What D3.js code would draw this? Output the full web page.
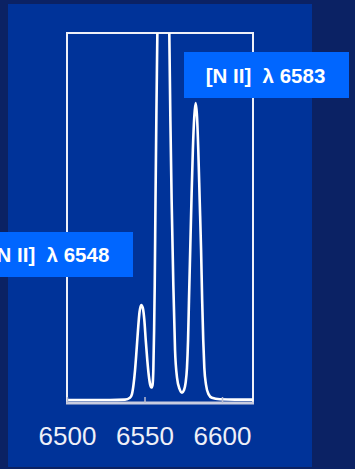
<!DOCTYPE html>
<html>
<head>
<meta charset="utf-8">
<script src="https://cdn.jsdelivr.net/npm/d3@7"></script>
<style>
  html, body { margin: 0; padding: 0; background: #0b2264; }
  svg { display: block; }
  text { font-family: "Liberation Sans", Arial, sans-serif; }
</style>
</head>
<body>
<svg id="chart" width="355" height="469"></svg>
<script>
// Spectrum around H-alpha with the [N II] doublet (relative flux)
const wavelength = [
  6500.0, 6514.8, 6527.7, 6537.4, 6540.6, 6541.9, 6542.9, 6543.9, 6544.8, 6545.8,
  6546.8, 6547.9, 6548.9, 6549.9, 6550.8, 6551.8, 6552.8, 6553.7, 6554.5, 6555.2,
  6555.7, 6556.2, 6556.6, 6557.1, 6557.7, 6558.3, 6559.0, 6560.3, 6562.1, 6563.9,
  6565.2, 6566.0, 6566.7, 6567.5, 6568.6, 6569.7, 6571.0, 6572.6, 6574.2, 6575.5,
  6576.5, 6577.4, 6578.1, 6578.7, 6579.5, 6580.3, 6581.2, 6582.1, 6583.0, 6583.9,
  6584.7, 6585.6, 6586.5, 6587.2, 6587.9, 6588.6, 6589.7, 6591.3, 6593.5, 6598.7,
  6608.4, 6620.0
];
const flux = [
  0.008, 0.008, 0.008, 0.009, 0.014, 0.024, 0.049, 0.089, 0.138, 0.197,
  0.246, 0.265, 0.257, 0.224, 0.170, 0.116, 0.073, 0.049, 0.042, 0.049,
  0.089, 0.197, 0.319, 0.549, 0.792, 1.000, 1.305, 1.765, 2.060, 1.765,
  1.305, 1.000, 0.765, 0.549, 0.319, 0.143, 0.068, 0.038, 0.028, 0.035,
  0.054, 0.095, 0.170, 0.278, 0.414, 0.549, 0.684, 0.773, 0.811, 0.773,
  0.684, 0.549, 0.414, 0.278, 0.170, 0.095, 0.049, 0.024, 0.014, 0.010,
  0.009, 0.009
];

// Axis ticks and line labels
const tickValues = [6500, 6550, 6600];
const lineLabels = ["[N II]  \u03bb 6583", "[N II]  \u03bb 6548"];

const svg = d3.select("#chart");

// background panel
svg.append("rect").attr("x", 8).attr("y", 4).attr("width", 304).attr("height", 463)
  .attr("fill", "#003399");

const plot = { left: 67, right: 253, top: 33, bottom: 403 };

const x = d3.scaleLinear().domain([6500, 6620]).range([plot.left, plot.right]);
const y = d3.scaleLinear().domain([0, 1]).range([plot.bottom, plot.top]);

svg.append("clipPath").attr("id", "plotClip")
  .append("rect")
  .attr("x", plot.left).attr("y", plot.top)
  .attr("width", plot.right - plot.left).attr("height", plot.bottom - plot.top);

// frame: left, top, right
svg.append("path")
  .attr("d", `M${plot.left},${plot.bottom}V${plot.top}H${plot.right}V${plot.bottom}`)
  .attr("fill", "none").attr("stroke", "#eef0f8").attr("stroke-width", 2);

// spectrum
const pts = wavelength.map((w, i) => [w, flux[i]]);
const line = d3.line().x(d => x(d[0])).y(d => y(d[1])).curve(d3.curveMonotoneX);
svg.append("path")
  .attr("clip-path", "url(#plotClip)")
  .attr("d", line(pts))
  .attr("fill", "none").attr("stroke", "#ffffff").attr("stroke-width", 2.6)
  .attr("stroke-linejoin", "round");

// bottom axis
const axis = d3.axisBottom(x).tickValues(tickValues).tickFormat(d3.format("d"))
  .tickSizeInner(-6).tickSizeOuter(0).tickPadding(24);
const gAxis = svg.append("g").attr("transform", `translate(0,${plot.bottom})`).call(axis);
gAxis.select(".domain")
  .attr("d", `M${plot.left - 1},0H${plot.right + 1}`)
  .attr("stroke", "#c9cde0").attr("stroke-width", 3);
gAxis.selectAll(".tick line").attr("stroke", "#b8bdd2").attr("stroke-width", 1.5);
gAxis.selectAll(".tick text")
  .attr("fill", "#eef0f8").attr("font-size", 26)
  .attr("font-family", "'Liberation Sans', Arial, sans-serif");

// line label boxes
const boxes = [
  { x: 184, y: 52, w: 165, h: 46, text: lineLabels[0] },
  { x: -32, y: 232, w: 165, h: 45, text: lineLabels[1] }
];
const gLab = svg.append("g").selectAll("g").data(boxes).join("g");
gLab.append("rect")
  .attr("x", d => d.x).attr("y", d => d.y).attr("width", d => d.w).attr("height", d => d.h)
  .attr("fill", "#0066ff");
gLab.append("text")
  .attr("x", d => d.x + d.w / 2 - 1).attr("y", d => d.y + d.h / 2 + 7.5)
  .attr("text-anchor", "middle")
  .attr("fill", "#ffffff").attr("font-weight", "bold").attr("font-size", 20.5)
  .style("white-space", "pre")
  .text(d => d.text);
</script>
</body>
</html>
